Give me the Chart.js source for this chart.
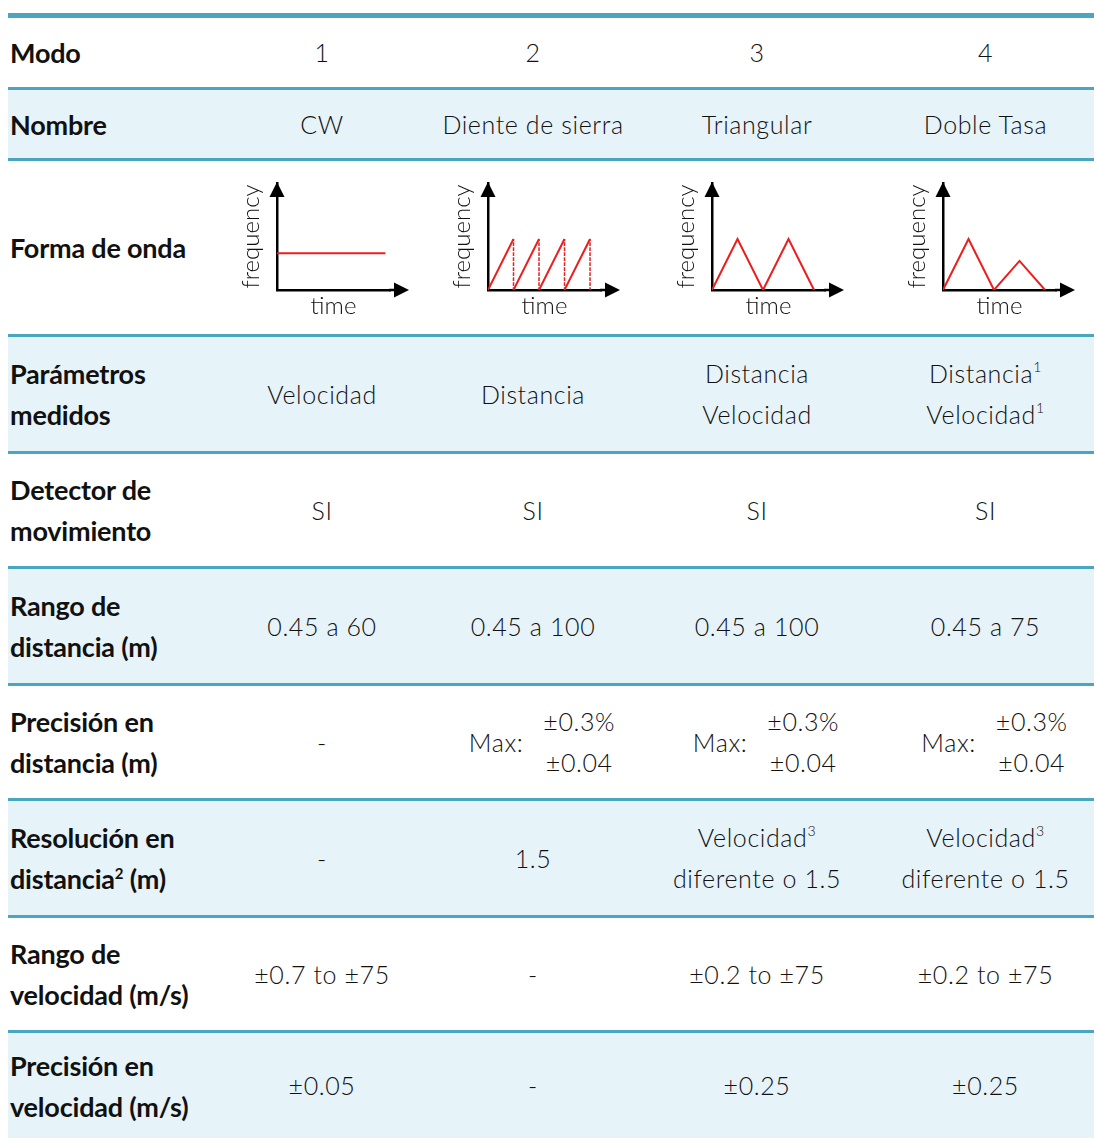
<!DOCTYPE html>
<html lang="es">
<head>
<meta charset="utf-8">
<title>Modos de operación</title>
<script src="https://cdn.jsdelivr.net/npm/chart.js@4"></script>
<style>
  body { margin: 0; background: #fff; font-family: Lato, "Noto Sans", sans-serif; color: #111; }
  .tabla { position: absolute; left: 8px; top: 13px; width: 1086px; border-top: 5px solid #4aa6bf; }
  .fila { display: grid; grid-template-columns: 207px 214px 208px 240px 217px; align-items: center;
          box-sizing: border-box; border-bottom: 3px solid #4aa6bf; }
  .fila.azul { background: #e6f3f9; }
  .fila.ultima { border-bottom: none; }
  .etq { padding-left: 2px; font-size: 27px; font-weight: 700; line-height: 41px; letter-spacing: -0.2px; }
  .val { text-align: center; font-size: 25px; font-weight: 300; line-height: 41px; letter-spacing: 0.6px; }
  sup { line-height: 0; vertical-align: 0; position: relative; }
  .val sup { font-size: 14px; top: -11px; }
  .etq sup { font-size: 15px; top: -10px; }
  .onda { position: relative; height: 100%; }
  .onda canvas { position: absolute; top: 9px; }
  .max { display: inline-flex; align-items: center; gap: 20px; padding-left: 18px; }
</style>
</head>
<body>
<div class="tabla" id="tabla"></div>
<script>
// filas de texto
const rowLabels = ['Modo', 'Nombre', 'Forma de onda', 'Parámetros<br>medidos', 'Detector de<br>movimiento',
  'Rango de<br>distancia (m)', 'Precisión en<br>distancia (m)', 'Resolución en<br>distancia<sup>2</sup> (m)',
  'Rango de<br>velocidad (m/s)', 'Precisión en<br>velocidad (m/s)'];
const modos = ['1', '2', '3', '4'];
const nombres = ['CW', 'Diente de sierra', 'Triangular', 'Doble Tasa'];
const parametros = ['Velocidad', 'Distancia', 'Distancia<br>Velocidad', 'Distancia<sup>1</sup><br>Velocidad<sup>1</sup>'];
const detector = ['SI', 'SI', 'SI', 'SI'];
const rangoDist = ['0.45 a 60', '0.45 a 100', '0.45 a 100', '0.45 a 75'];
const precDist = ['-', 'Max:|±0.3%<br>±0.04', 'Max:|±0.3%<br>±0.04', 'Max:|±0.3%<br>±0.04'];
const resolDist = ['-', '1.5', 'Velocidad<sup>3</sup><br>diferente o 1.5', 'Velocidad<sup>3</sup><br>diferente o 1.5'];
const rangoVel = ['±0.7 to ±75', '-', '±0.2 to ±75', '±0.2 to ±75'];
const precVel = ['±0.05', '-', '±0.25', '±0.25'];

// formas de onda (tiempo / frecuencia)
const cwTime = [0, 4.25];
const cwFreq = [0.72, 0.72];
const sawTime = [0, 1, 1, 2, 2, 3, 3, 4, 4];
const sawFreq = [0, 1, 0, 1, 0, 1, 0, 1, 0];
const triTime = [0, 1, 2, 3, 4];
const triFreq = [0, 1, 0, 1, 0];
const dualTime = [0, 1, 2, 3, 4];
const dualFreq = [0, 1, 0, 0.57, 0];

const rowHeights = [72, 71, 176, 117, 115, 117, 115, 117, 115, 105];
const waveLeft = [15, 12, 28, 19];

const rows = [modos, nombres, null, parametros, detector, rangoDist, precDist, resolDist, rangoVel, precVel];

const tabla = document.getElementById('tabla');
rows.forEach(function(vals, i) {
    const fila = document.createElement('div');
    fila.className = 'fila' + (i % 2 === 1 ? ' azul' : '') + (i === rows.length - 1 ? ' ultima' : '');
    fila.style.height = rowHeights[i] + 'px';
    let html = '<div class="etq">' + rowLabels[i] + '</div>';
    for (let c = 0; c < 4; c++) {
        if (vals === null) {
            html += '<div class="onda"><canvas id="onda' + c + '" width="188" height="151" style="left:' + waveLeft[c] + 'px"></canvas></div>';
        } else if (vals[c].indexOf('|') >= 0) {
            const parts = vals[c].split('|');
            html += '<div class="val"><span class="max"><span>' + parts[0] + '</span><span>' + parts[1] + '</span></span></div>';
        } else {
            html += '<div class="val">' + vals[c] + '</div>';
        }
    }
    fila.innerHTML = html;
    tabla.appendChild(fila);
});

// eje x prolongado y puntas de flecha
const arrowHeads = {
    id: 'arrowHeads',
    afterDraw(chart) {
        const ctx = chart.ctx;
        const a = chart.chartArea;
        const tipX = a.right + 18;
        ctx.save();
        ctx.strokeStyle = '#000';
        ctx.lineWidth = 2.5;
        ctx.beginPath();
        ctx.moveTo(a.right - 1, a.bottom);
        ctx.lineTo(tipX - 10, a.bottom);
        ctx.stroke();
        ctx.fillStyle = '#000';
        ctx.beginPath();
        ctx.moveTo(a.left, a.top - 1);
        ctx.lineTo(a.left - 7.5, a.top + 14);
        ctx.lineTo(a.left + 7.5, a.top + 14);
        ctx.closePath();
        ctx.fill();
        ctx.beginPath();
        ctx.moveTo(tipX + 1, a.bottom);
        ctx.lineTo(tipX - 14, a.bottom - 7.5);
        ctx.lineTo(tipX - 14, a.bottom + 7.5);
        ctx.closePath();
        ctx.fill();
        ctx.restore();
    }
};

function makeWave(canvasId, xs, ys) {
    const ctx = document.getElementById(canvasId).getContext('2d');
    new Chart(ctx, {
        type: 'line',
        data: {
            datasets: [{
                data: xs.map(function(x, k) { return { x: x, y: ys[k] }; }),
                borderColor: '#ee1c1c',
                borderWidth: 2,
                pointRadius: 0,
                tension: 0,
                segment: {
                    borderDash: function(s) { return s.p0.parsed.x === s.p1.parsed.x ? [2, 3] : undefined; },
                    borderWidth: function(s) { return s.p0.parsed.x === s.p1.parsed.x ? 1.5 : undefined; }
                }
            }]
        },
        options: {
            responsive: false,
            animation: false,
            devicePixelRatio: 1,
            layout: { padding: { left: 7, top: 13, right: 28, bottom: 0 } },
            plugins: { legend: { display: false }, tooltip: { enabled: false } },
            scales: {
                x: {
                    type: 'linear', min: 0, max: 4.43,
                    grid: { display: false },
                    ticks: { display: false },
                    border: { display: true, color: '#000', width: 2.5 },
                    title: { display: true, text: 'time', color: '#111', padding: 0,
                             font: { family: 'Lato', size: 24, weight: '300' } },
                    afterFit: function(scale) { scale.height = 31; }
                },
                y: {
                    type: 'linear', min: 0, max: 2.1,
                    grid: { display: false },
                    ticks: { display: false },
                    border: { display: true, color: '#000', width: 2.5 },
                    title: { display: true, text: 'frequency', color: '#111', padding: 0,
                             font: { family: 'Lato', size: 24, weight: '300' } },
                    afterFit: function(scale) { scale.width = 40; }
                }
            }
        },
        plugins: [arrowHeads]
    });
}

makeWave('onda0', cwTime, cwFreq);
makeWave('onda1', sawTime, sawFreq);
makeWave('onda2', triTime, triFreq);
makeWave('onda3', dualTime, dualFreq);
</script>
</body>
</html>
